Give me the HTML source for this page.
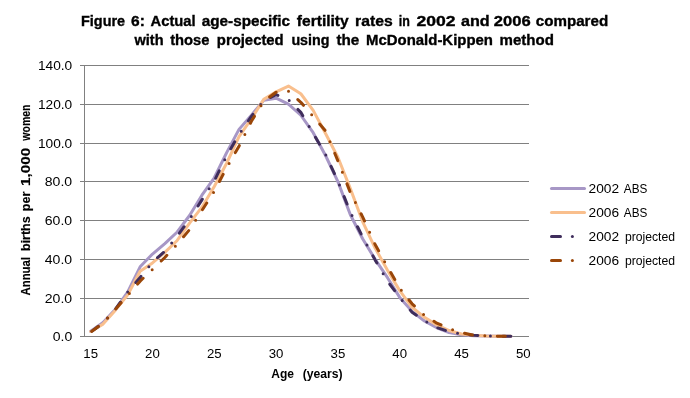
<!DOCTYPE html>
<html><head><meta charset="utf-8"><style>
html,body{margin:0;padding:0;background:#fff;}
body{width:690px;height:398px;overflow:hidden;position:relative;}
svg{position:absolute;left:0;top:0;will-change:transform;}
</style></head><body>
<svg width="690" height="398" viewBox="0 0 690 398">
<rect width="690" height="398" fill="#fff"/>
<g stroke="#808080" stroke-width="1" shape-rendering="crispEdges"><line x1="80" y1="65.5" x2="529" y2="65.5"/><line x1="80" y1="104.5" x2="529" y2="104.5"/><line x1="80" y1="143.5" x2="529" y2="143.5"/><line x1="80" y1="181.5" x2="529" y2="181.5"/><line x1="80" y1="220.5" x2="529" y2="220.5"/><line x1="80" y1="259.5" x2="529" y2="259.5"/><line x1="80" y1="298.5" x2="529" y2="298.5"/><line x1="80" y1="336.5" x2="529" y2="336.5"/><line x1="84.5" y1="65" x2="84.5" y2="337"/></g>
<g font-family="&quot;Liberation Sans&quot;, sans-serif" fill="#000">
<text x="81.00" y="25.70" font-size="15.0" font-weight="bold" stroke="#000" stroke-width="0.35" textLength="44.10" lengthAdjust="spacingAndGlyphs">Figure</text>
<text x="131.10" y="25.70" font-size="15.0" font-weight="bold" stroke="#000" stroke-width="0.35" textLength="13.80" lengthAdjust="spacingAndGlyphs">6:</text>
<text x="150.60" y="25.70" font-size="15.0" font-weight="bold" stroke="#000" stroke-width="0.35" textLength="45.00" lengthAdjust="spacingAndGlyphs">Actual</text>
<text x="201.70" y="25.70" font-size="15.0" font-weight="bold" stroke="#000" stroke-width="0.35" textLength="88.40" lengthAdjust="spacingAndGlyphs">age-specific</text>
<text x="296.80" y="25.70" font-size="15.0" font-weight="bold" stroke="#000" stroke-width="0.35" textLength="51.90" lengthAdjust="spacingAndGlyphs">fertility</text>
<text x="355.10" y="25.70" font-size="15.0" font-weight="bold" stroke="#000" stroke-width="0.35" textLength="37.60" lengthAdjust="spacingAndGlyphs">rates</text>
<text x="398.80" y="25.70" font-size="15.0" font-weight="bold" stroke="#000" stroke-width="0.35" textLength="11.10" lengthAdjust="spacingAndGlyphs">in</text>
<text x="416.40" y="25.70" font-size="15.0" font-weight="bold" stroke="#000" stroke-width="0.35" textLength="39.10" lengthAdjust="spacingAndGlyphs">2002</text>
<text x="461.00" y="25.70" font-size="15.0" font-weight="bold" stroke="#000" stroke-width="0.35" textLength="28.70" lengthAdjust="spacingAndGlyphs">and</text>
<text x="493.80" y="25.70" font-size="15.0" font-weight="bold" stroke="#000" stroke-width="0.35" textLength="36.90" lengthAdjust="spacingAndGlyphs">2006</text>
<text x="535.80" y="25.70" font-size="15.0" font-weight="bold" stroke="#000" stroke-width="0.35" textLength="72.40" lengthAdjust="spacingAndGlyphs">compared</text>
<text x="134.50" y="44.80" font-size="15.0" font-weight="bold" stroke="#000" stroke-width="0.35" textLength="29.00" lengthAdjust="spacingAndGlyphs">with</text>
<text x="170.20" y="44.80" font-size="15.0" font-weight="bold" stroke="#000" stroke-width="0.35" textLength="39.30" lengthAdjust="spacingAndGlyphs">those</text>
<text x="216.80" y="44.80" font-size="15.0" font-weight="bold" stroke="#000" stroke-width="0.35" textLength="66.90" lengthAdjust="spacingAndGlyphs">projected</text>
<text x="291.40" y="44.80" font-size="15.0" font-weight="bold" stroke="#000" stroke-width="0.35" textLength="38.10" lengthAdjust="spacingAndGlyphs">using</text>
<text x="336.40" y="44.80" font-size="15.0" font-weight="bold" stroke="#000" stroke-width="0.35" textLength="22.90" lengthAdjust="spacingAndGlyphs">the</text>
<text x="366.00" y="44.80" font-size="15.0" font-weight="bold" stroke="#000" stroke-width="0.35" textLength="127.00" lengthAdjust="spacingAndGlyphs">McDonald-Kippen</text>
<text x="499.50" y="44.80" font-size="15.0" font-weight="bold" stroke="#000" stroke-width="0.35" textLength="54.40" lengthAdjust="spacingAndGlyphs">method</text>
<text x="37.90" y="69.80" font-size="12.5" textLength="34.30" lengthAdjust="spacingAndGlyphs">140.0</text>
<text x="37.90" y="108.80" font-size="12.5" textLength="34.30" lengthAdjust="spacingAndGlyphs">120.0</text>
<text x="37.90" y="147.80" font-size="12.5" textLength="34.30" lengthAdjust="spacingAndGlyphs">100.0</text>
<text x="44.80" y="185.80" font-size="12.5" textLength="27.40" lengthAdjust="spacingAndGlyphs">80.0</text>
<text x="44.80" y="224.80" font-size="12.5" textLength="27.40" lengthAdjust="spacingAndGlyphs">60.0</text>
<text x="44.80" y="263.80" font-size="12.5" textLength="27.40" lengthAdjust="spacingAndGlyphs">40.0</text>
<text x="44.80" y="302.80" font-size="12.5" textLength="27.40" lengthAdjust="spacingAndGlyphs">20.0</text>
<text x="52.70" y="340.80" font-size="12.5" textLength="19.50" lengthAdjust="spacingAndGlyphs">0.0</text>
<text x="83.33" y="357.90" font-size="12.5" textLength="14.70" lengthAdjust="spacingAndGlyphs">15</text>
<text x="145.14" y="357.90" font-size="12.5" textLength="14.70" lengthAdjust="spacingAndGlyphs">20</text>
<text x="206.94" y="357.90" font-size="12.5" textLength="14.70" lengthAdjust="spacingAndGlyphs">25</text>
<text x="268.75" y="357.90" font-size="12.5" textLength="14.70" lengthAdjust="spacingAndGlyphs">30</text>
<text x="330.55" y="357.90" font-size="12.5" textLength="14.70" lengthAdjust="spacingAndGlyphs">35</text>
<text x="392.36" y="357.90" font-size="12.5" textLength="14.70" lengthAdjust="spacingAndGlyphs">40</text>
<text x="454.16" y="357.90" font-size="12.5" textLength="14.70" lengthAdjust="spacingAndGlyphs">45</text>
<text x="515.97" y="357.90" font-size="12.5" textLength="14.70" lengthAdjust="spacingAndGlyphs">50</text>
<text x="588.60" y="193.00" font-size="12.5" textLength="30.50" lengthAdjust="spacingAndGlyphs">2002</text>
<text x="623.80" y="193.00" font-size="12.5" textLength="23.50" lengthAdjust="spacingAndGlyphs">ABS</text>
<text x="588.60" y="217.00" font-size="12.5" textLength="30.50" lengthAdjust="spacingAndGlyphs">2006</text>
<text x="623.80" y="217.00" font-size="12.5" textLength="23.50" lengthAdjust="spacingAndGlyphs">ABS</text>
<text x="588.60" y="241.00" font-size="12.5" textLength="30.50" lengthAdjust="spacingAndGlyphs">2002</text>
<text x="624.90" y="241.00" font-size="12.5" textLength="50.20" lengthAdjust="spacingAndGlyphs">projected</text>
<text x="588.60" y="264.60" font-size="12.5" textLength="30.50" lengthAdjust="spacingAndGlyphs">2006</text>
<text x="624.90" y="264.60" font-size="12.5" textLength="50.20" lengthAdjust="spacingAndGlyphs">projected</text>
<text x="271.30" y="377.70" font-size="12" font-weight="bold" textLength="22.70" lengthAdjust="spacingAndGlyphs">Age</text>
<text x="302.70" y="377.70" font-size="12" font-weight="bold" textLength="39.90" lengthAdjust="spacingAndGlyphs">(years)</text>
<text transform="translate(29.9,295.50) rotate(-90)" font-size="13" font-weight="bold" stroke="#000" stroke-width="0.15" textLength="38.50" lengthAdjust="spacingAndGlyphs">Annual</text>
<text transform="translate(29.9,251.00) rotate(-90)" font-size="13" font-weight="bold" stroke="#000" stroke-width="0.15" textLength="34.70" lengthAdjust="spacingAndGlyphs">births</text>
<text transform="translate(29.9,211.20) rotate(-90)" font-size="13" font-weight="bold" stroke="#000" stroke-width="0.15" textLength="19.45" lengthAdjust="spacingAndGlyphs">per</text>
<text transform="translate(29.9,185.90) rotate(-90)" font-size="13" font-weight="bold" stroke="#000" stroke-width="0.15" textLength="38.10" lengthAdjust="spacingAndGlyphs">1,000</text>
<text transform="translate(29.9,140.70) rotate(-90)" font-size="13" font-weight="bold" stroke="#000" stroke-width="0.15" textLength="36.20" lengthAdjust="spacingAndGlyphs">women</text>
</g>
<g fill="none" stroke-width="3" stroke-linecap="round" stroke-linejoin="round">
<polyline stroke="#A797C6" points="90.68,331.27 103.04,322.56 115.40,309.40 127.76,291.98 140.12,266.81 152.49,254.04 164.85,243.59 177.21,231.97 189.57,215.52 201.93,195.19 214.29,177.77 226.65,152.61 239.01,129.38 251.38,115.25 263.74,100.34 276.10,98.21 288.46,104.21 300.82,115.25 313.18,132.67 325.54,155.51 337.90,181.64 350.26,214.55 362.62,238.75 374.99,259.07 387.35,277.46 399.71,297.40 412.07,311.34 424.43,321.01 436.79,327.79 449.15,332.63 461.51,334.76 473.88,335.73 486.24,336.11 498.60,336.31 510.96,336.40"/>
<polyline stroke="#F9BF8D" points="90.68,331.47 103.04,324.11 115.40,310.17 127.76,294.88 140.12,271.27 152.49,262.94 164.85,252.30 177.21,240.49 189.57,223.07 201.93,207.19 214.29,186.48 226.65,163.25 239.01,136.73 251.38,118.93 263.74,99.38 276.10,91.83 288.46,86.02 300.82,93.76 313.18,110.41 325.54,133.44 337.90,157.25 350.26,188.42 362.62,221.52 374.99,247.84 387.35,269.91 399.71,290.62 412.07,307.27 424.43,317.34 436.79,324.89 449.15,330.50 461.51,333.98 473.88,335.34 486.24,335.92 498.60,336.21 510.96,336.31"/>
<polyline stroke="#3F2D5C" stroke-dasharray="8 12.5 0 12.5" stroke-dashoffset="31.5" points="90.68,332.05 103.04,322.95 115.40,309.40 127.76,291.98 140.12,277.46 152.49,262.17 164.85,251.33 177.21,236.23 189.57,219.20 201.93,199.84 214.29,180.87 226.65,155.90 239.01,134.41 251.38,116.41 263.74,100.73 276.10,94.73 288.46,99.76 300.82,112.34 313.18,133.44 325.54,154.35 337.90,181.06 350.26,212.03 362.62,237.00 374.99,259.65 387.35,280.94 399.71,297.59 412.07,312.30 424.43,320.63 436.79,327.60 449.15,331.66 461.51,334.18 473.88,335.34 486.24,335.92 498.60,336.21 510.96,336.31"/>
<polyline stroke="#9A4608" stroke-dasharray="8 12.5 0 12.5" stroke-dashoffset="31.5" points="90.68,332.24 103.04,322.95 115.40,309.40 127.76,295.27 140.12,281.14 152.49,269.33 164.85,257.52 177.21,244.17 189.57,229.65 201.93,210.49 214.29,191.32 226.65,167.71 239.01,146.22 251.38,121.25 263.74,101.31 276.10,92.21 288.46,91.25 300.82,102.28 313.18,116.41 325.54,130.93 337.90,160.93 350.26,192.29 362.62,216.87 374.99,244.17 387.35,266.62 399.71,288.11 412.07,303.79 424.43,315.21 436.79,323.14 449.15,328.56 461.51,332.63 473.88,335.34 486.24,335.92 498.60,336.21 510.96,336.31"/>
</g>
<g fill="none" stroke-width="3" stroke-linecap="round">
<line x1="551.5" y1="188.5" x2="584.5" y2="188.5" stroke="#A797C6"/>
<line x1="551.5" y1="212.5" x2="584.5" y2="212.5" stroke="#F9BF8D"/>
<line x1="551.5" y1="236.5" x2="560.5" y2="236.5" stroke="#3F2D5C"/>
<line x1="572.4" y1="236.5" x2="572.4" y2="236.5" stroke="#3F2D5C"/>
<line x1="551.5" y1="260.5" x2="560.5" y2="260.5" stroke="#9A4608"/>
<line x1="572.4" y1="260.5" x2="572.4" y2="260.5" stroke="#9A4608"/>
</g>
</svg>
</body></html>
